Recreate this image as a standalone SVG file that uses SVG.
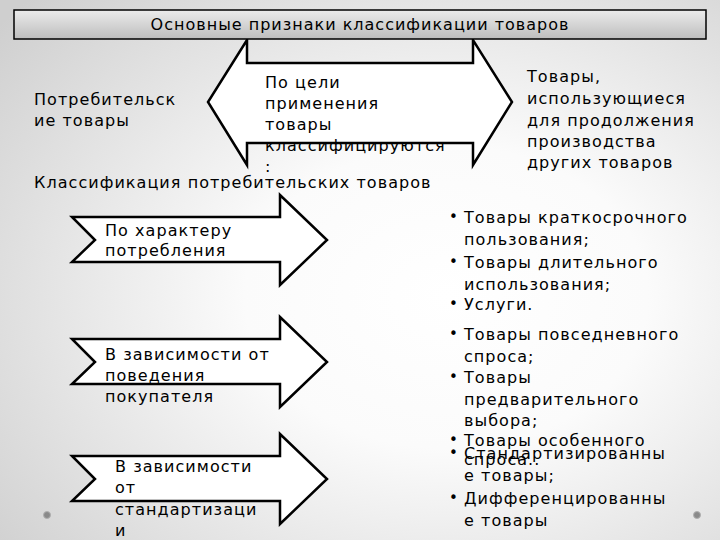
<svg xmlns="http://www.w3.org/2000/svg" width="720" height="540" viewBox="0 0 720 540">
<defs>
<radialGradient id="bg" cx="0.62" cy="0.55" r="0.8">
<stop offset="0" stop-color="#ffffff"/>
<stop offset="0.35" stop-color="#fbfbfb"/>
<stop offset="1" stop-color="#cfcfcf"/>
</radialGradient>
<linearGradient id="bar" x1="0" y1="0" x2="0" y2="1">
<stop offset="0" stop-color="#ececec"/>
<stop offset="1" stop-color="#bdbdbd"/>
</linearGradient>
<style>
.shape{fill:#ffffff;stroke:#000;stroke-width:2.5;stroke-linejoin:miter}
.t{font-family:"DejaVu Sans","Noto Sans",sans-serif;font-size:16px;letter-spacing:1.05px;fill:#000}
.b{font-family:"DejaVu Sans","Noto Sans",sans-serif;font-size:15px;fill:#000}
.title{font-family:"DejaVu Sans","Noto Sans",sans-serif;font-size:16px;letter-spacing:1px;fill:#000}
.dot{fill:#8a8a8a;stroke:#b0b0b0;stroke-width:1}
</style>
</defs>
<rect x="0" y="0" width="720" height="540" fill="url(#bg)"/>

<g id="double-arrow">
<path class="shape" d="M247,40 L208,102 L247,165 L247,143 L473,143 L473,165 L512,102 L473,40 L473,63 L247,63 Z"/>
<text class="t" x="265"><tspan x="265" y="88">По цели</tspan><tspan x="265" y="109">применения</tspan><tspan x="265" y="130">товары</tspan><tspan x="265" y="151">классифицируются</tspan><tspan x="265" y="172">:</tspan></text>
</g>

<g id="title">
<rect x="14" y="10" width="692" height="29" fill="url(#bar)" stroke="#000" stroke-width="1.5"/>
<text class="title" x="360" y="30" text-anchor="middle">Основные признаки классификации товаров</text>
</g>

<g id="consumer-goods">
<text class="t"><tspan x="34" y="105">Потребительск</tspan><tspan x="34" y="126">ие товары</tspan></text>
</g>

<g id="production-goods">
<text class="t"><tspan x="527" y="82">Товары,</tspan><tspan x="527" y="104">использующиеся</tspan><tspan x="527" y="126">для продолжения</tspan><tspan x="527" y="147">производства</tspan><tspan x="527" y="168">других товаров</tspan></text>
</g>

<g id="subtitle">
<text class="t" x="34" y="188">Классификация потребительских товаров</text>
</g>

<g id="arrow-consumption">
<path class="shape" d="M72,217 L280,217 L280,195 L327,240 L280,285 L280,262 L72,262 L95,240 Z"/>
<text class="t"><tspan x="105" y="236">По характеру</tspan><tspan x="105" y="256">потребления</tspan></text>
</g>

<g id="arrow-behaviour">
<path class="shape" d="M72,339 L280,339 L280,317 L327,362 L280,407 L280,384 L72,384 L95,362 Z"/>
<text class="t"><tspan x="105" y="360">В зависимости от</tspan><tspan x="105" y="381">поведения</tspan><tspan x="105" y="402">покупателя</tspan></text>
</g>

<g id="arrow-standard">
<path class="shape" d="M72,456 L280,456 L280,434 L327,479 L280,524 L280,501 L72,501 L95,479 Z"/>
<text class="t"><tspan x="115" y="472">В зависимости</tspan><tspan x="115" y="493">от</tspan><tspan x="115" y="515">стандартизаци</tspan><tspan x="115" y="536">и</tspan></text>
</g>

<g id="list-consumption">
<text class="b"><tspan x="449" y="222">•</tspan><tspan x="449" y="267">•</tspan><tspan x="449" y="309">•</tspan></text>
<text class="t"><tspan x="464" y="223">Товары краткосрочного</tspan><tspan x="464" y="245">пользования;</tspan><tspan x="464" y="268">Товары длительного</tspan><tspan x="464" y="290">использования;</tspan><tspan x="464" y="310">Услуги.</tspan></text>
</g>

<g id="list-behaviour">
<text class="b"><tspan x="449" y="339">•</tspan><tspan x="449" y="382">•</tspan><tspan x="449" y="445">•</tspan></text>
<text class="t"><tspan x="464" y="340">Товары повседневного</tspan><tspan x="464" y="362">спроса;</tspan><tspan x="464" y="383">Товары</tspan><tspan x="464" y="405">предварительного</tspan><tspan x="464" y="426">выбора;</tspan><tspan x="464" y="446">Товары особенного</tspan><tspan x="464" y="465">спроса..</tspan></text>
</g>

<g id="list-standard">
<text class="b"><tspan x="449" y="458">•</tspan><tspan x="449" y="503">•</tspan></text>
<text class="t"><tspan x="464" y="459">Стандартизированны</tspan><tspan x="464" y="481">е товары;</tspan><tspan x="464" y="504">Дифференцированны</tspan><tspan x="464" y="526">е товары</tspan></text>
</g>

<g id="connectors"></g>

<g id="decor">
<circle class="dot" cx="47" cy="515" r="3.5"/>
<circle class="dot" cx="697" cy="515" r="3.5"/>
</g>
</svg>
